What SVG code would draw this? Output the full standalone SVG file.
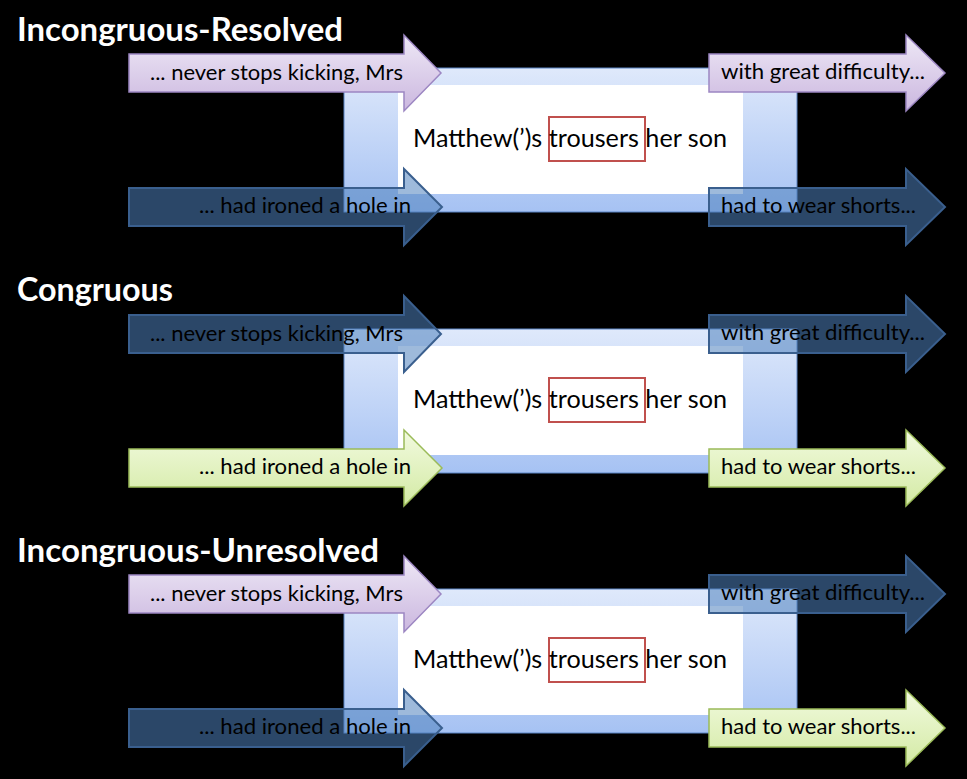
<svg xmlns="http://www.w3.org/2000/svg" width="967" height="779" viewBox="0 0 967 779">
<defs>
<linearGradient id="gPurple" x1="0" y1="0" x2="0" y2="1"><stop offset="0" stop-color="#EEE8F6"/><stop offset="1" stop-color="#CBB7DF"/></linearGradient>
<linearGradient id="gGreen" x1="0" y1="0" x2="0" y2="1"><stop offset="0" stop-color="#F2FADF"/><stop offset="1" stop-color="#D3EAA4"/></linearGradient>
<linearGradient id="gFrame" x1="0" y1="0" x2="0" y2="1"><stop offset="0" stop-color="#DFE9FB"/><stop offset="1" stop-color="#A6C2F3"/></linearGradient>
<path id="arrL1" d="M129,54 H404 V35 L441,73 L404,111 V92 H129 Z"/>
<path id="arrL2" d="M129,188 H404 V169 L442,207 L404,245 V226 H129 Z"/>
<path id="arrR1" d="M709,54 H906 V35 L945,73 L906,111 V92 H709 Z"/>
<path id="arrR2" d="M709,188 H906 V169 L945,207 L906,245 V226 H709 Z"/>
</defs>
<style>
.title{font-family:Lato,"Liberation Sans",sans-serif;font-weight:bold;font-size:32px;fill:#FFFFFF}
.lbl{font-family:Lato,"Liberation Sans",sans-serif;font-size:22px;fill:#000000}
.mid{font-family:Lato,"Liberation Sans",sans-serif;font-size:24.5px;fill:#000000}
.purple{fill:url(#gPurple);stroke:#9C86C2;stroke-width:1.5}
.green{fill:url(#gGreen);stroke:#9BBB59;stroke-width:1.5}
.dark{fill:#4F81BD;fill-opacity:0.55;stroke:#3A5F8E;stroke-width:2}
.frame{fill:url(#gFrame);stroke:#5B84C4;stroke-width:1}
.inner{fill:#FFFFFF}
.hl{fill:none;stroke:#C0504D;stroke-width:2}
</style>
<rect x="0" y="0" width="967" height="779" fill="#000000"/>

<g id="panel-incongruous-resolved">
  <g id="title-ir"><text class="title" x="17" y="41" textLength="326" lengthAdjust="spacingAndGlyphs">Incongruous-Resolved</text></g>
  <g id="sentence-ir">
    <rect class="frame" x="344" y="68" width="453" height="144"/>
    <rect class="inner" x="398" y="85" width="345" height="109"/>
    <rect class="hl" x="549" y="117" width="96" height="44"/>
    <text class="mid" x="413" y="147" textLength="314" lengthAdjust="spacingAndGlyphs">Matthew(’)s trousers her son</text>
  </g>
  <g id="ir-left-top"><use href="#arrL1" class="purple"/><text class="lbl" x="150" y="80" textLength="253" lengthAdjust="spacingAndGlyphs">... never stops kicking, Mrs</text></g>
  <g id="ir-left-bottom"><use href="#arrL2" class="dark"/><text class="lbl" x="199" y="213" textLength="212" lengthAdjust="spacingAndGlyphs">... had ironed a hole in</text></g>
  <g id="ir-right-top"><use href="#arrR1" class="purple"/><text class="lbl" x="721" y="79" textLength="204" lengthAdjust="spacingAndGlyphs">with great difficulty...</text></g>
  <g id="ir-right-bottom"><use href="#arrR2" class="dark"/><text class="lbl" x="721" y="213" textLength="195" lengthAdjust="spacingAndGlyphs">had to wear shorts...</text></g>
</g>

<g id="panel-congruous" transform="translate(0,261)">
  <g id="title-c"><text class="title" x="17" y="40" textLength="156" lengthAdjust="spacingAndGlyphs">Congruous</text></g>
  <g id="sentence-c">
    <rect class="frame" x="344" y="68" width="453" height="144"/>
    <rect class="inner" x="398" y="85" width="345" height="109"/>
    <rect class="hl" x="549" y="117" width="96" height="44"/>
    <text class="mid" x="413" y="147" textLength="314" lengthAdjust="spacingAndGlyphs">Matthew(’)s trousers her son</text>
  </g>
  <g id="c-left-top"><use href="#arrL1" class="dark"/><text class="lbl" x="150" y="80" textLength="253" lengthAdjust="spacingAndGlyphs">... never stops kicking, Mrs</text></g>
  <g id="c-left-bottom"><use href="#arrL2" class="green"/><text class="lbl" x="199" y="213" textLength="212" lengthAdjust="spacingAndGlyphs">... had ironed a hole in</text></g>
  <g id="c-right-top"><use href="#arrR1" class="dark"/><text class="lbl" x="721" y="79" textLength="204" lengthAdjust="spacingAndGlyphs">with great difficulty...</text></g>
  <g id="c-right-bottom"><use href="#arrR2" class="green"/><text class="lbl" x="721" y="213" textLength="195" lengthAdjust="spacingAndGlyphs">had to wear shorts...</text></g>
</g>

<g id="panel-incongruous-unresolved" transform="translate(0,521)">
  <g id="title-iu"><text class="title" x="17" y="41" textLength="362" lengthAdjust="spacingAndGlyphs">Incongruous-Unresolved</text></g>
  <g id="sentence-iu">
    <rect class="frame" x="344" y="68" width="453" height="144"/>
    <rect class="inner" x="398" y="85" width="345" height="109"/>
    <rect class="hl" x="549" y="117" width="96" height="44"/>
    <text class="mid" x="413" y="147" textLength="314" lengthAdjust="spacingAndGlyphs">Matthew(’)s trousers her son</text>
  </g>
  <g id="iu-left-top"><use href="#arrL1" class="purple"/><text class="lbl" x="150" y="80" textLength="253" lengthAdjust="spacingAndGlyphs">... never stops kicking, Mrs</text></g>
  <g id="iu-left-bottom"><use href="#arrL2" class="dark"/><text class="lbl" x="199" y="213" textLength="212" lengthAdjust="spacingAndGlyphs">... had ironed a hole in</text></g>
  <g id="iu-right-top"><use href="#arrR1" class="dark"/><text class="lbl" x="721" y="79" textLength="204" lengthAdjust="spacingAndGlyphs">with great difficulty...</text></g>
  <g id="iu-right-bottom"><use href="#arrR2" class="green"/><text class="lbl" x="721" y="213" textLength="195" lengthAdjust="spacingAndGlyphs">had to wear shorts...</text></g>
</g>

<g id="connectors"></g>
</svg>
